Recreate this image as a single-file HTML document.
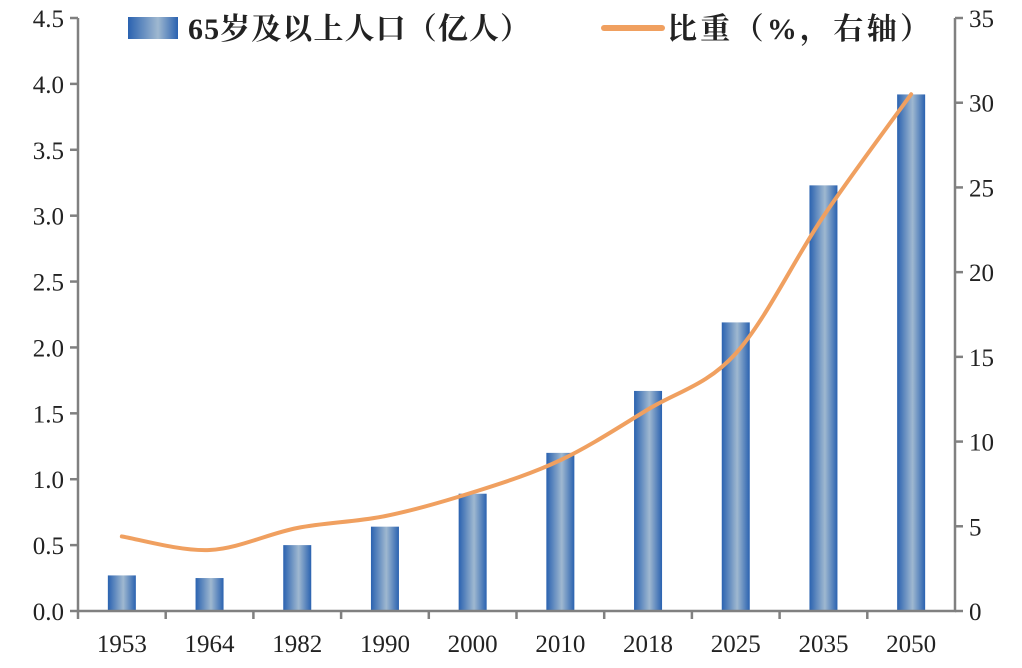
<!DOCTYPE html>
<html><head><meta charset="utf-8"><style>
body{margin:0;background:#fff}
svg text{font-family:"Liberation Serif","Noto Serif CJK SC",serif;fill:#222}
</style></head><body>
<svg id="c" width="1022" height="663">
<defs><linearGradient id="g" x1="0" x2="1" y1="0" y2="0">
<stop offset="0" stop-color="#2a62b0"/><stop offset="0.55" stop-color="#9fb8d0"/><stop offset="1" stop-color="#2a62b0"/></linearGradient></defs>
</svg>
<script>
const categories=["1953","1964","1982","1990","2000","2010","2018","2025","2035","2050"];
const population=[0.27,0.25,0.50,0.64,0.89,1.20,1.67,2.19,3.23,3.92];
const share=[4.4,3.6,4.9,5.6,7.0,8.9,11.9,15.2,23.3,30.5];
const leftTicks=["0.0","0.5","1.0","1.5","2.0","2.5","3.0","3.5","4.0","4.5"];
const rightTicks=["0","5","10","15","20","25","30","35"];
const svg=document.getElementById('c');const NS="http://www.w3.org/2000/svg";
const X0=78,X1=955,Y0=611,Y1=18;
const yL=v=>Y0-(v/4.5)*(Y0-Y1), yR=v=>Y0-(v/35)*(Y0-Y1);
const band=(X1-X0)/categories.length, xc=i=>X0+band*(i+0.5);
function mk(t,a,p){const e=document.createElementNS(NS,t);for(const k in a)e.setAttribute(k,a[k]);(p||svg).appendChild(e);return e;}
population.forEach((v,i)=>{const r=mk('rect',{x:xc(i)-14,y:yL(v),width:28,height:Y0-yL(v),fill:'url(#g)'});

});
const ax={stroke:'#808080','stroke-width':2.5,fill:'none'};
let a=mk('path',Object.assign({d:`M${X0},${Y1}V${Y0}H${X1}V${Y1}`},ax));


leftTicks.forEach((t,i)=>{const y=yL(i*0.5);mk('line',Object.assign({x1:X0-8,x2:X0,y1:y,y2:y},ax));
const e=mk('text',{x:X0-14,y:y+9,'text-anchor':'end','font-size':25});e.textContent=t;

});
rightTicks.forEach((t,i)=>{const y=yR(i*5);mk('line',Object.assign({x1:X1,x2:X1+8,y1:y,y2:y},ax));
const e=mk('text',{x:X1+14,y:y+9,'font-size':25});e.textContent=t;

});
categories.forEach((c,i)=>{const x=X0+band*i;mk('line',Object.assign({x1:x,x2:x,y1:Y0,y2:Y0+8},ax));
const e=mk('text',{x:xc(i),y:652,'text-anchor':'middle','font-size':25});e.textContent=c;

});
const pts=share.map((v,i)=>[xc(i),yR(v)]);
let d=`M${pts[0][0]},${pts[0][1]}`;
for(let i=0;i<pts.length-1;i++){const p0=pts[i-1]||pts[i],p1=pts[i],p2=pts[i+1],p3=pts[i+2]||p2;
d+=` C${p1[0]+(p2[0]-p0[0])/6},${p1[1]+(p2[1]-p0[1])/6} ${p2[0]-(p3[0]-p1[0])/6},${p2[1]-(p3[1]-p1[1])/6} ${p2[0]},${p2[1]}`;}
const l=mk('path',{d:d,stroke:'#f0a060','stroke-width':4,fill:'none','stroke-linecap':'round'});


</script>
<svg width="1022" height="663" style="position:absolute;left:0;top:0">
<defs><linearGradient id="g2"><stop offset="0" stop-color="#2a62b0"/><stop offset="0.6" stop-color="#9fb8d0"/><stop offset="1" stop-color="#2a62b0"/></linearGradient></defs>
<rect x="128" y="17" width="50" height="22" fill="url(#g2)"/>
<text x="188" y="39" font-size="30" font-weight="bold" textLength="342" style="font-family:'Liberation Serif','Noto Serif CJK SC',serif">65岁及以上人口（亿人）</text>
<line x1="604" y1="28" x2="662" y2="28" stroke="#f0a060" stroke-width="6" stroke-linecap="round"/>
<text x="667" y="39" font-size="30" font-weight="bold" textLength="263" style="font-family:'Liberation Serif','Noto Serif CJK SC',serif">比重（%，右轴）</text>
</svg>
</body></html>
